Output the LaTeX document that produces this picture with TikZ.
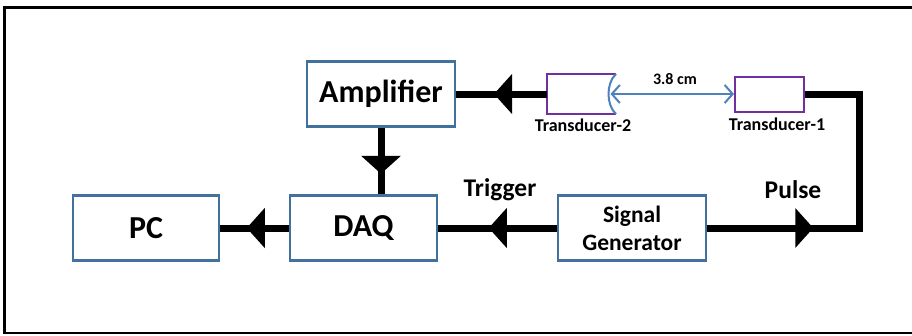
\documentclass[tikz,border=0pt]{standalone}
\usepackage{fontspec}
\setmainfont{Carlito}
\usetikzlibrary{arrows.meta,decorations.markings}
\definecolor{boxblue}{RGB}{65,113,156}
\definecolor{tpurple}{RGB}{112,48,160}
\definecolor{dimblue}{RGB}{79,129,189}
\tikzset{
  blk/.style={draw=boxblue, line width=2.5pt, fill=white, minimum width=148pt,
    minimum height=65pt, inner sep=0pt, align=center,
    font=\bfseries\fontsize{32}{34}\selectfont},
  sgblk/.style={blk, font=\bfseries\fontsize{23.5}{28}\selectfont},
  wire/.style={line width=7pt, draw=black},
  midtri/.style={postaction={decorate}, decoration={markings,
    mark=at position #1 with {\fill[black] (-18pt,20pt) -- (0pt,0pt) -- (-18pt,-20pt) -- cycle;}}},
  trans/.style={line width=2pt, inner sep=0pt},
  lbl/.style={font=\bfseries\fontsize{25.5}{28}\selectfont, inner sep=0pt},
  tlbl/.style={font=\bfseries\fontsize{18}{20}\selectfont, inner sep=0pt},
  dim/.style={draw=dimblue, line width=2pt, {Straight Barb[length=8pt,width=18pt]}-{Straight Barb[length=8pt,width=18pt]}},
}
\begin{document}
\begin{tikzpicture}[x=1pt,y=-1pt]
\useasboundingbox (0,0) rectangle (912,335);
\clip (0,0) rectangle (912,335);
\fill[white] (0,0) rectangle (912,335);
\draw[line width=2.5pt] (4.5,7.5) rectangle (940,333);

% boxes
\node[blk] (amp) at (381,94) {Amplifier};
\node[blk, minimum width=146pt] (pc) at (146,228) {PC};
\node[blk, minimum width=147pt] (daq) at (363.5,228) {DAQ};
\node[sgblk] (sg) at (632,228) {Signal\\Generator};

% transducers
\node[trans, draw=tpurple, minimum width=69pt, minimum height=35pt] (t1) at (769.5,94) {};
\node[trans, minimum width=67pt, minimum height=38pt] (t2) at (581.5,94) {};
\draw[tpurple, line width=2pt] (t2.north east) -- (t2.north west) -- (t2.south west) -- (t2.south east);
\draw[dimblue, line width=2pt] (t2.north east) .. controls (606,83) and (606,105) .. (t2.south east);

% connectors
\coordinate (corner) at (859,94);
\draw[wire, midtri=106pt] (sg.east) -| (corner) -- (t1.east);
\draw[wire, midtri=53pt] (t2.west) -- (amp.east);
\draw[wire, midtri=46pt] (amp.south) -- (amp.south |- daq.north);
\draw[wire, midtri=68pt] (sg.west) -- (daq.east);
\draw[wire, midtri=42pt] (daq.west) -- (pc.east);
\draw[dim] ([xshift=-5.5pt]t2.east) -- (t1.west);

% labels
\node[font=\bfseries\fontsize{16}{18}\selectfont, inner sep=0pt] (dist) at (675,79) {3.8 cm};
\node[tlbl] (t2l) at (583,125) {Transducer-2};
\node[tlbl] (t1l) at (777,124) {Transducer-1};
\node[lbl] (trig) at (500,190) {Trigger};
\node[lbl] (pulse) at (793,190) {Pulse};
\end{tikzpicture}
\end{document}
